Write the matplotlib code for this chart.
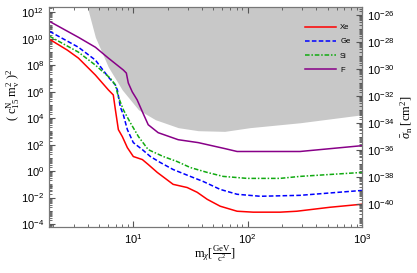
import numpy as np
import matplotlib
matplotlib.use('Agg')
import matplotlib.pyplot as plt
from matplotlib.ticker import FixedLocator, FuncFormatter, NullFormatter

plt.rcParams['font.family'] = ['Liberation Sans', 'DejaVu Sans']
plt.rcParams['mathtext.fontset'] = 'custom'
plt.rcParams['mathtext.rm'] = 'Liberation Serif'
plt.rcParams['mathtext.it'] = 'Liberation Serif:italic'
plt.rcParams['mathtext.sf'] = 'Liberation Sans'

# dark-matter mass [GeV] and log10 of (c15 mv^2)^2
xe_m = [1.85, 2.65, 3.31, 4.66, 6.05, 6.68, 6.97, 7.40, 8.02, 8.87, 10.0, 12.0, 13.5,
        16.2, 22.3, 29.6, 36.2, 44.3, 57.5, 80.9, 112, 192, 269, 525, 1000]
xe_y = [9.95, 9.13, 8.53, 7.25, 6.13, 5.75, 4.63, 3.13, 2.6, 1.77, 1.1, 0.87, 0.5,
        -0.1, -1.0, -1.24, -1.6, -2.13, -2.65, -3.03, -3.1, -3.1, -3.03, -2.73, -2.5]

ge_m = [1.85, 3.31, 4.66, 6.05, 6.97, 7.25, 7.69, 8.18, 8.87, 10.0, 12.0, 14.1, 17.2,
        22.3, 31.5, 40.8, 57.5, 80.9, 129, 287, 1000]
ge_y = [10.55, 9.35, 8.38, 7.1, 6.5, 6.13, 4.85, 4.25, 3.13, 2.15, 1.62, 1.1, 0.65,
        0.12, -0.4, -0.78, -1.38, -1.75, -1.9, -1.83, -1.46]

si_m = [1.85, 3.31, 4.66, 6.31, 6.97, 7.40, 8.18, 9.42, 11.1, 13.5, 18.3, 24.2, 31.5,
        44.3, 61.1, 99, 192, 287, 1000]
si_y = [10.18, 8.98, 8.0, 7.0, 6.5, 5.6, 4.63, 3.65, 2.6, 1.62, 1.1, 0.72, 0.27,
        -0.1, -0.4, -0.55, -0.55, -0.4, -0.1]

f_m = [1.85, 3.31, 4.66, 6.05, 8.18, 8.69, 9.04, 9.79, 10.8, 12.0, 13.5, 16.5, 24.7,
       37.0, 63.1, 80.9, 192, 287, 1000]
f_y = [11.3, 10.1, 9.35, 8.53, 7.63, 7.4, 6.65, 5.98, 5.38, 4.48, 3.5, 2.9, 2.37,
       2.15, 1.7, 1.48, 1.48, 1.48, 1.92]

# excluded region (grey), lower boundary
excl_m = [3.96, 4.66, 6.05, 8.0, 11.1, 15.6, 24.7, 37.0, 63.0, 105, 288, 1000]
excl_y = [12.38, 10.1, 7.85, 6.13, 4.63, 3.88, 3.28, 3.05, 3.0, 3.28, 3.65, 4.25]

labels = ['Xe', 'Ge', 'Si', 'F']
colors = ['#ff0000', '#0000ff', '#11aa11', '#880088']
styles = ['-', (0, (3, 1.5)), (0, (3, 1.2, 1, 1.2)), '-']

x_ticks = [10, 100, 1000]
y_ticks = [-4, -2, 0, 2, 4, 6, 8, 10, 12]
sig_ticks = [-40, -38, -36, -34, -32, -30, -28, -26]

ylo, yhi = -4.23, 12.38
sig_lo, sig_hi = -41.7, -25.41

fig = plt.figure(figsize=(4.17, 2.73), dpi=100)
ax = fig.add_axes([0.1175, 0.168, 0.7505, 0.806])
ax.set_xscale('log')
ax.set_yscale('log')

ax.fill_between(excl_m, np.power(10.0, excl_y), 10.0 ** yhi, color='#c8c8c8', lw=0)

series = [(xe_m, xe_y), (ge_m, ge_y), (si_m, si_y), (f_m, f_y)]
for (m, y), lab, c, ls in zip(series, labels, colors, styles):
    ax.plot(m, np.power(10.0, y), color=c, ls=ls, lw=1.1, label=lab)

ax.set_xlim(1.83, 1000)
ax.set_ylim(10.0 ** ylo, 10.0 ** yhi)


def sci(v, pos):
    e = int(round(np.log10(v)))
    return r'$\mathsf{10^{%d}}$' % e


def minor_ticks(lo, hi):
    out = []
    for d in range(int(np.floor(lo)), int(np.ceil(hi)) + 1):
        for s in range(1, 10):
            v = s * 10.0 ** d
            if 10.0 ** lo <= v <= 10.0 ** hi:
                out.append(v)
    return out


ax.xaxis.set_major_locator(FixedLocator(x_ticks))
ax.xaxis.set_minor_locator(FixedLocator(minor_ticks(np.log10(1.83), 3)))
ax.xaxis.set_major_formatter(FuncFormatter(sci))
ax.xaxis.set_minor_formatter(NullFormatter())
ax.yaxis.set_major_locator(FixedLocator([10.0 ** e for e in y_ticks]))
ax.yaxis.set_minor_locator(FixedLocator(minor_ticks(ylo, yhi)))
ax.yaxis.set_major_formatter(FuncFormatter(sci))
ax.yaxis.set_minor_formatter(NullFormatter())
ax.tick_params(which='both', direction='in', top=True, right=False, labelsize=8,
               color='#555555')
ax.tick_params(which='major', length=4)
ax.tick_params(which='minor', length=2)
for s in ax.spines.values():
    s.set_color('#777777')

ax2 = ax.twinx()
ax2.set_yscale('log')
ax2.set_ylim(10.0 ** sig_lo, 10.0 ** sig_hi)
ax2.yaxis.set_major_locator(FixedLocator([10.0 ** e for e in sig_ticks]))
ax2.yaxis.set_minor_locator(FixedLocator(minor_ticks(sig_lo, sig_hi)))
ax2.yaxis.set_major_formatter(FuncFormatter(sci))
ax2.yaxis.set_minor_formatter(NullFormatter())
ax2.tick_params(which='both', direction='in', labelsize=8, color='#555555')
ax2.tick_params(which='major', length=4)
ax2.tick_params(which='minor', length=2)
for s in ax2.spines.values():
    s.set_color('#777777')

ax.set_ylabel(r'$(\ \mathrm{c}_{15}^{\mathrm{N}}\ \mathrm{m}_{\mathrm{v}}^{2}\ )^2$', fontsize=9)
ax.yaxis.set_label_coords(-0.085, 0.6)
ax.set_xlabel(r'$\mathrm{m}_{\chi}[\frac{\mathrm{GeV}}{\mathrm{c}^2}]$', fontsize=9)
ax.xaxis.set_label_coords(0.53, -0.075)
ax2.set_ylabel(r'$\bar{\sigma}_{\mathrm{n}}\ [\mathrm{cm}^2]$', fontsize=9, labelpad=3)

ax.legend(loc='upper right', bbox_to_anchor=(0.985, 0.955), frameon=False, fontsize=5.5,
          handlelength=4.0, labelspacing=0.9, handletextpad=0.6)

fig.savefig('out.png', dpi=100)
